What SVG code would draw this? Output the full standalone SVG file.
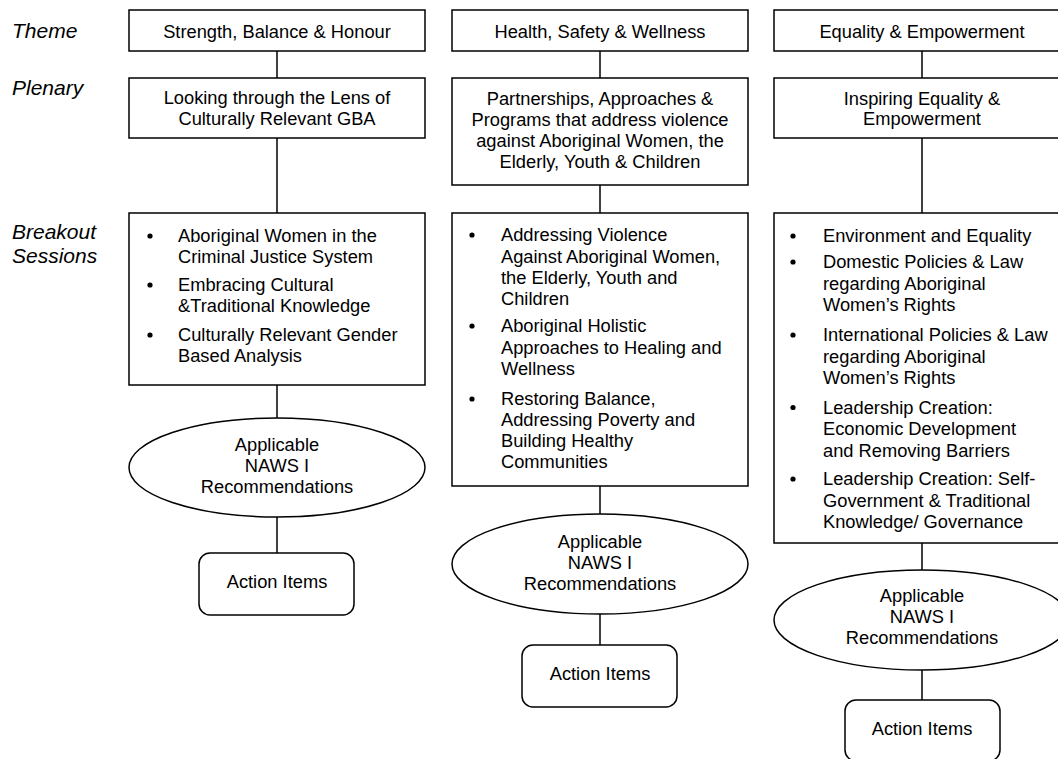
<svg xmlns="http://www.w3.org/2000/svg" width="1058" height="759" viewBox="0 0 1058 759">
<style>
.box{fill:#fff;stroke:#000;stroke-width:1.5}
.t{font-family:"Liberation Sans",Arial,sans-serif;font-size:18.3px;fill:#000}
.c{text-anchor:middle}
.lbl{font-family:"Liberation Sans",Arial,sans-serif;font-size:21px;font-style:italic;fill:#000}
.con line{stroke:#000;stroke-width:1.5}
.b{fill:#000}
</style>
<rect width="1058" height="759" fill="#fff"/>
<g id="labels">
<text class="lbl" x="12" y="38">Theme</text>
<text class="lbl" x="12" y="95">Plenary</text>
<text class="lbl" x="12" y="239">Breakout</text>
<text class="lbl" x="12" y="263">Sessions</text>
</g>
<g class="con" id="connectors">
<line x1="277" y1="51" x2="277" y2="78"/>
<line x1="277" y1="138" x2="277" y2="213"/>
<line x1="277" y1="385" x2="277" y2="418"/>
<line x1="277" y1="517" x2="277" y2="553"/>
<line x1="600" y1="51" x2="600" y2="78"/>
<line x1="600" y1="185" x2="600" y2="213"/>
<line x1="600" y1="486" x2="600" y2="514"/>
<line x1="600" y1="614" x2="600" y2="645"/>
<line x1="922" y1="51" x2="922" y2="78"/>
<line x1="922" y1="138" x2="922" y2="213"/>
<line x1="922" y1="543" x2="922" y2="570"/>
<line x1="922" y1="670" x2="922" y2="700"/>
</g>
<g id="theme1"><rect class="box" x="129" y="10" width="296" height="41"/><text class="t c" x="277" y="37.5">Strength, Balance &amp; Honour</text></g>
<g id="theme2"><rect class="box" x="452" y="10" width="296" height="41"/><text class="t c" x="600" y="37.5">Health, Safety &amp; Wellness</text></g>
<g id="theme3"><rect class="box" x="774" y="10" width="296" height="41"/><text class="t c" x="922" y="37.5">Equality &amp; Empowerment</text></g>
<g id="plenary1"><rect class="box" x="129" y="78" width="296" height="60"/><text class="t c" x="277" y="104"><tspan x="277">Looking through the Lens of</tspan><tspan x="277" y="125">Culturally Relevant GBA</tspan></text></g>
<g id="plenary2"><rect class="box" x="452" y="78" width="296" height="107"/><text class="t c" x="600" y="104.5"><tspan x="600">Partnerships, Approaches &amp;</tspan><tspan x="600" y="126">Programs that address violence</tspan><tspan x="600" y="147">against Aboriginal Women, the</tspan><tspan x="600" y="168">Elderly, Youth &amp; Children</tspan></text></g>
<g id="plenary3"><rect class="box" x="774" y="78" width="296" height="60"/><text class="t c" x="922" y="104.5"><tspan x="922">Inspiring Equality &amp;</tspan><tspan x="922" y="125">Empowerment</tspan></text></g>
<g id="breakout1"><rect class="box" x="129" y="213" width="296" height="172"/>
<circle class="b" cx="150" cy="236" r="2.6"/><circle class="b" cx="150" cy="285" r="2.6"/><circle class="b" cx="150" cy="335" r="2.6"/>
<text class="t" x="178" y="242"><tspan x="178">Aboriginal Women in the</tspan><tspan x="178" y="263">Criminal Justice System</tspan><tspan x="178" y="291">Embracing Cultural</tspan><tspan x="178" y="312">&amp;Traditional Knowledge</tspan><tspan x="178" y="341">Culturally Relevant Gender</tspan><tspan x="178" y="362">Based Analysis</tspan></text></g>
<g id="breakout2"><rect class="box" x="452" y="213" width="296" height="273"/>
<circle class="b" cx="472" cy="235" r="2.6"/><circle class="b" cx="472" cy="326" r="2.6"/><circle class="b" cx="472" cy="399" r="2.6"/>
<text class="t" x="501" y="241"><tspan x="501">Addressing Violence</tspan><tspan x="501" y="262.5">Against Aboriginal Women,</tspan><tspan x="501" y="284">the Elderly, Youth and</tspan><tspan x="501" y="305">Children</tspan><tspan x="501" y="332">Aboriginal Holistic</tspan><tspan x="501" y="353.5">Approaches to Healing and</tspan><tspan x="501" y="375">Wellness</tspan><tspan x="501" y="405">Restoring Balance,</tspan><tspan x="501" y="426">Addressing Poverty and</tspan><tspan x="501" y="447">Building Healthy</tspan><tspan x="501" y="468">Communities</tspan></text></g>
<g id="breakout3"><rect class="box" x="774" y="213" width="296" height="330"/>
<circle class="b" cx="793" cy="236" r="2.6"/><circle class="b" cx="793" cy="262" r="2.6"/><circle class="b" cx="793" cy="335" r="2.6"/><circle class="b" cx="793" cy="407.5" r="2.6"/><circle class="b" cx="793" cy="479" r="2.6"/>
<text class="t" x="823" y="242"><tspan x="823">Environment and Equality</tspan><tspan x="823" y="268">Domestic Policies &amp; Law</tspan><tspan x="823" y="289.5">regarding Aboriginal</tspan><tspan x="823" y="311">Women’s Rights</tspan><tspan x="823" y="341">International Policies &amp; Law</tspan><tspan x="823" y="362.5">regarding Aboriginal</tspan><tspan x="823" y="384">Women’s Rights</tspan><tspan x="823" y="413.5">Leadership Creation:</tspan><tspan x="823" y="435">Economic Development</tspan><tspan x="823" y="456.5">and Removing Barriers</tspan><tspan x="823" y="485">Leadership Creation: Self-</tspan><tspan x="823" y="506.5">Government &amp; Traditional</tspan><tspan x="823" y="528">Knowledge/ Governance</tspan></text></g>
<g id="naws1"><ellipse class="box" cx="277" cy="467.5" rx="148" ry="49.5"/><text class="t c" x="277" y="451"><tspan x="277">Applicable</tspan><tspan x="277" y="472">NAWS I</tspan><tspan x="277" y="493">Recommendations</tspan></text></g>
<g id="naws2"><ellipse class="box" cx="600" cy="564" rx="148" ry="50"/><text class="t c" x="600" y="548"><tspan x="600">Applicable</tspan><tspan x="600" y="569">NAWS I</tspan><tspan x="600" y="590">Recommendations</tspan></text></g>
<g id="naws3"><ellipse class="box" cx="922" cy="620" rx="148" ry="50"/><text class="t c" x="922" y="602"><tspan x="922">Applicable</tspan><tspan x="922" y="623">NAWS I</tspan><tspan x="922" y="644">Recommendations</tspan></text></g>
<g id="action1"><rect class="box" x="199" y="553" width="155" height="62" rx="11"/><text class="t c" x="277" y="588">Action Items</text></g>
<g id="action2"><rect class="box" x="522" y="645" width="155" height="62" rx="11"/><text class="t c" x="600" y="680">Action Items</text></g>
<g id="action3"><rect class="box" x="845" y="700" width="155" height="61" rx="11"/><text class="t c" x="922" y="735">Action Items</text></g>
</svg>
